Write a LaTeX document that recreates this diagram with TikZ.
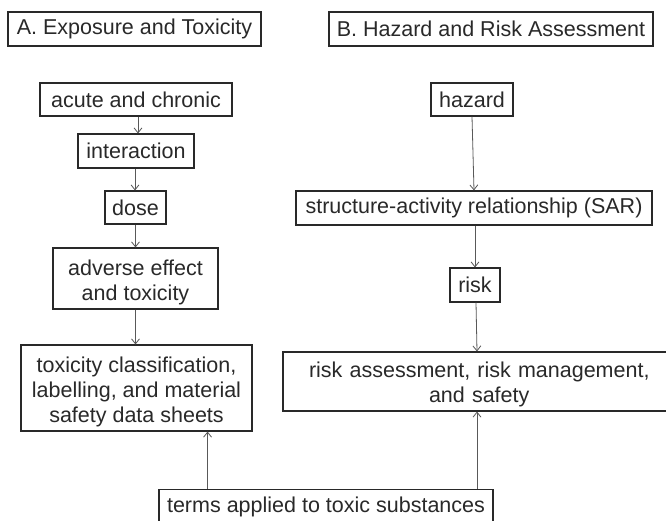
\documentclass[tikz,border=0pt]{standalone}
\usepackage{fontspec}
\setmainfont{Liberation Sans}
\usetikzlibrary{arrows.meta}
\definecolor{ink}{gray}{0.16}
\definecolor{wire}{gray}{0.35}
% stacked lines of a box, set a little below the box centre
\newcommand{\stacklines}[1]{\raisebox{-4pt}[\height][\depth]{\begin{tabular}{@{}c@{}}#1\end{tabular}}}
\begin{document}
\begin{tikzpicture}[x=1pt,y=-1pt,
  box/.style={draw=ink,line width=1.1pt,text=ink,inner sep=0pt,align=center,
    font=\fontsize{21.5}{25}\selectfont},
  arr/.style={draw=wire,line width=0.8pt,-{Straight Barb[length=5pt,width=8pt]}}]
\clip (0,0) rectangle (666,520);
\fill[white] (0,0) rectangle (666,520);
% column headings
\node[box,minimum width=253pt,minimum height=34pt] (titleA) at (134.5,29) {A. Exposure and Toxicity};
\node[box,minimum width=324pt,minimum height=34pt] (titleB) at (491,29) {B. Hazard and Risk Assessment};
% left column: exposure and toxicity
\node[box,minimum width=192pt,minimum height=33pt] (acute) at (136,99.5) {acute and chronic};
\node[box,minimum width=116pt,minimum height=34pt] (inter) at (136,151) {interaction};
\node[box,minimum width=61pt,minimum height=33pt] (dose) at (135.5,207.5) {dose};
\node[box,minimum width=165pt,minimum height=61pt] (adverse) at (135.5,278.5)
  {\stacklines{adverse effect\\and toxicity}};
\node[box,minimum width=231pt,minimum height=86pt] (tox) at (136.5,388)
  {\stacklines{toxicity classification,\\labelling, and material\\safety data sheets}};
% right column: hazard and risk
\node[box,minimum width=82pt,minimum height=33pt] (hazard) at (472,99.5) {hazard};
\node[box,minimum width=356pt,minimum height=34pt] (sar) at (474,208) {structure-activity relationship (SAR)};
\node[box,minimum width=50pt,minimum height=34pt] (risk) at (475,285) {risk};
\node[box,minimum width=396pt,minimum height=59pt,text width=396pt,align=left,text height=16pt,text depth=24pt] (ra) at (481,381.5)
  {\hspace*{26pt}risk assessment, risk management,\\\hspace*{146pt}and safety};
% shared source at the bottom
\node[box,minimum width=334pt,minimum height=50pt,anchor=north] (terms) at (326,489)
  {\raisebox{20pt}{terms applied to toxic substances}};
% connectors
\draw[arr] ([xshift=2pt]acute.south) -- ([xshift=2pt]inter.north);
\draw[arr] ([xshift=-1pt]inter.south) -- ([xshift=-1pt]inter.south |- dose.north);
\draw[arr] (dose.south) -- (adverse.north);
\draw[arr] (adverse.south) -- (adverse.south |- tox.north);
\draw[arr] (hazard.south) -- ([xshift=2pt]hazard.south |- sar.north);
\draw[arr] ([xshift=1pt]sar.south) -- ([xshift=1pt]sar.south |- risk.north);
\draw[arr] ([xshift=1pt]risk.south) -- ([xshift=2pt]risk.south |- ra.north);
\draw[arr] ([xshift=-45pt]tox.south east |- terms.north) -- ([xshift=-45pt]tox.south east);
\draw[arr] ([xshift=2pt]risk.south |- terms.north) -- ([xshift=2pt]risk.south |- ra.south);
\end{tikzpicture}
\end{document}
